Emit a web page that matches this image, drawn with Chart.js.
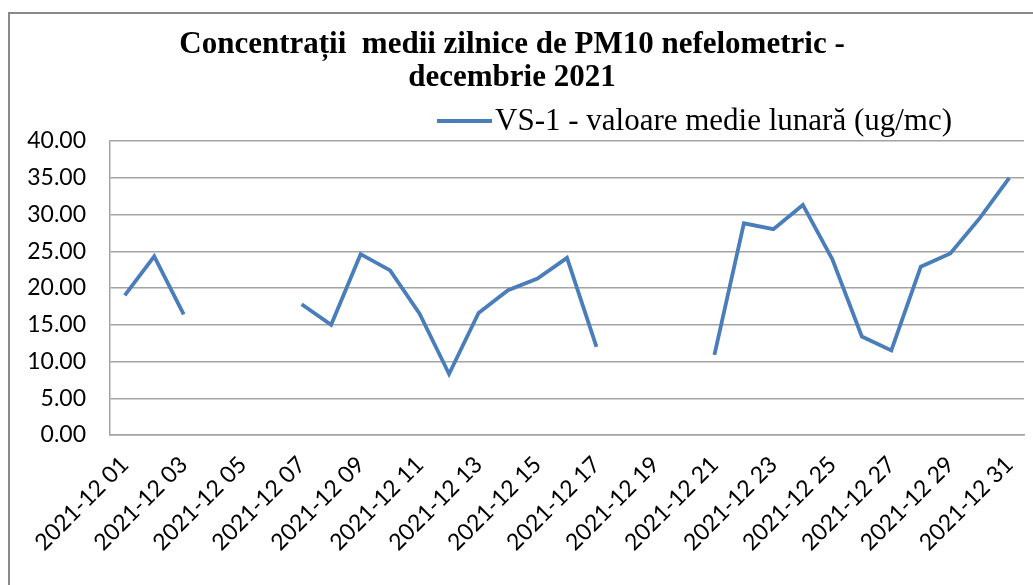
<!DOCTYPE html>
<html>
<head>
<meta charset="utf-8">
<script src="https://cdn.jsdelivr.net/npm/chart.js@4/dist/chart.umd.min.js"></script>
<style>
  html, body { margin: 0; padding: 0; background: #fff; overflow: hidden; }
  #wrap { position: relative; width: 1033px; height: 585px; }
  #frame { position: absolute; left: 8px; top: 12px; width: 1100px; height: 700px;
           border: 2px solid #898989; box-sizing: border-box; }
  #c { position: absolute; left: 0; top: 0; }
</style>
</head>
<body>
<div id="wrap">
  <div id="frame"></div>
  <canvas id="c" width="1033" height="585"></canvas>
</div>
<script>
// ── Data ──────────────────────────────────────────────────────────────────────
const days = [
  '2021-12 01', '2021-12 02', '2021-12 03', '2021-12 04', '2021-12 05', '2021-12 06',
  '2021-12 07', '2021-12 08', '2021-12 09', '2021-12 10', '2021-12 11', '2021-12 12',
  '2021-12 13', '2021-12 14', '2021-12 15', '2021-12 16', '2021-12 17', '2021-12 18',
  '2021-12 19', '2021-12 20', '2021-12 21', '2021-12 22', '2021-12 23', '2021-12 24',
  '2021-12 25', '2021-12 26', '2021-12 27', '2021-12 28', '2021-12 29', '2021-12 30',
  '2021-12 31',
];
// null = no measurement that day (gap in the line)
const vs1 = [
  19.0, 24.3, 16.4, null, null, null,
  17.8, 15.0, 24.6, 22.4, 16.5, 8.3,
  16.6, 19.7, 21.3, 24.1, 12.0, null,
  null, null, 10.9, 28.8, 28.0, 31.3,
  23.9, 13.4, 11.5, 22.9, 24.7, 29.5,
  35.0,
];
const seriesName = 'VS-1 - valoare medie lunară (ug/mc)';
const titleLines = ['Concentrații  medii zilnice de PM10 nefelometric -', 'decembrie 2021'];

// ── Style ─────────────────────────────────────────────────────────────────────
const LINE_COLOR = '#4a7ebb';
const GRID_COLOR = '#a3a3a3';
const SERIF = '"Liberation Serif", "Times New Roman", serif';
const SANS = 'Lato, "Open Sans", sans-serif';

// legend drawn by hand: Excel put it off-centre, right of the plot
const sideLegend = {
  id: 'sideLegend',
  afterDraw(chart, args, opts) {
    const ctx = chart.ctx;
    const ds = chart.data.datasets[0];
    ctx.save();
    ctx.strokeStyle = ds.borderColor;
    ctx.lineWidth = ds.borderWidth;
    ctx.beginPath();
    ctx.moveTo(opts.x, opts.y);
    ctx.lineTo(opts.x + opts.lineLen, opts.y);
    ctx.stroke();
    ctx.fillStyle = '#000';
    ctx.font = '31px ' + SERIF;
    ctx.textBaseline = 'middle';
    ctx.fillText(ds.label, opts.x + opts.lineLen + 3, opts.y + 1);
    ctx.restore();
  },
};

new Chart(document.getElementById('c'), {
  type: 'line',
  data: {
    labels: days,
    datasets: [{
      label: seriesName,
      data: vs1,
      borderColor: LINE_COLOR,
      backgroundColor: LINE_COLOR,
      borderWidth: 3.8,
      pointRadius: 0,
      spanGaps: false,
      tension: 0,
    }],
  },
  options: {
    responsive: false,
    animation: false,
    devicePixelRatio: 1,
    layout: { padding: { left: 0, right: 9, top: 0, bottom: 0 } },
    plugins: {
      legend: { display: false },
      tooltip: { enabled: false },
      title: {
        display: true,
        text: titleLines,
        color: '#000',
        font: { family: SERIF, size: 31, weight: 'bold', lineHeight: 1.065 },
        padding: { top: 28, bottom: 47 },
      },
      sideLegend: { x: 437, y: 121, lineLen: 55 },
    },
    scales: {
      x: {
        offset: true,
        grid: { display: false, drawTicks: false },
        border: { display: true, color: GRID_COLOR, width: 1.5 },
        ticks: {
          autoSkip: false,
          maxRotation: 45,
          minRotation: 45,
          padding: 16,
          color: '#000',
          font: { family: SANS, size: 23 },
          callback: (v, i) => (i % 2 === 0 ? days[i] : ''),
        },
        afterFit: (s) => { s.height = 150; s.paddingLeft = 0; s.paddingRight = 0; },
      },
      y: {
        min: 0,
        max: 40,
        ticks: {
          stepSize: 5,
          padding: 24,
          color: '#000',
          font: { family: SANS, size: 23 },
          callback: (v) => Number(v).toFixed(2),
        },
        grid: { color: GRID_COLOR, lineWidth: 1.5, drawTicks: false },
        border: { display: true, color: GRID_COLOR, width: 1.5 },
        afterFit: (s) => { s.width = 110; },
      },
    },
  },
  plugins: [sideLegend],
});
</script>
</body>
</html>
